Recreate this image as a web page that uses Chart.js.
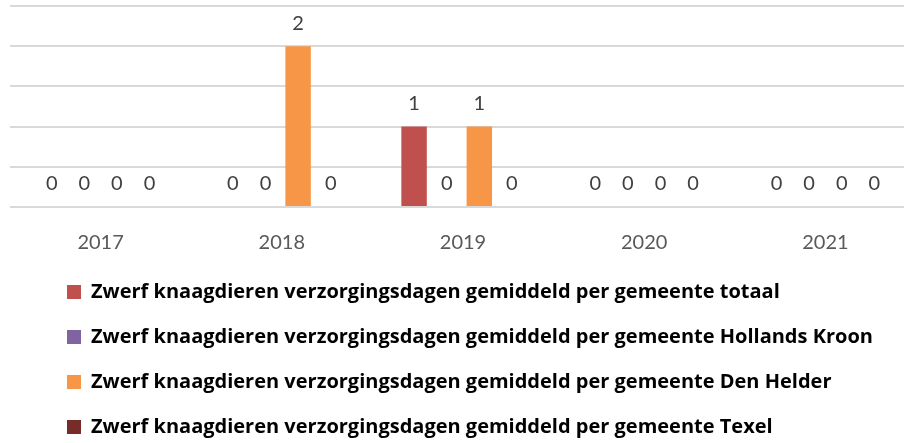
<!DOCTYPE html>
<html><head><meta charset="utf-8">
<style>html,body{margin:0;padding:0;overflow:hidden;background:#fff}#wrap{width:916px;height:447px;position:relative}</style>
<script src="https://cdn.jsdelivr.net/npm/chart.js@4"></script>
</head><body><div id="wrap"><canvas id="c" width="916" height="447"></canvas></div>
<script>
const categories = ['2017', '2018', '2019', '2020', '2021'];
const seriesNames = [
  'Zwerf knaagdieren verzorgingsdagen gemiddeld per gemeente totaal',
  'Zwerf knaagdieren verzorgingsdagen gemiddeld per gemeente Hollands Kroon',
  'Zwerf knaagdieren verzorgingsdagen gemiddeld per gemeente Den Helder',
  'Zwerf knaagdieren verzorgingsdagen gemiddeld per gemeente Texel'
];
const totaal = [0, 0, 1, 0, 0];
const hollandsKroon = [0, 0, 0, 0, 0];
const denHelder = [0, 2, 1, 0, 0];
const texel = [0, 0, 0, 0, 0];
const yMin = 0, yMax = 2.5, yStep = 0.5;
const colors = ['#c0504d', '#8064a2', '#f79646', '#772c2a'];

const seriesValues = [totaal, hollandsKroon, denHelder, texel];

const valueLabels = {
  id: 'valueLabels',
  afterDatasetsDraw(chart) {
    const ctx = chart.ctx;
    ctx.save();
    ctx.font = '20px Lato';
    ctx.fillStyle = '#404040';
    ctx.textAlign = 'center';
    ctx.textBaseline = 'middle';
    chart.data.datasets.forEach((ds, i) => {
      const meta = chart.getDatasetMeta(i);
      meta.data.forEach((el, j) => {
        ctx.fillText(String(ds.data[j]), el.x, el.y - 23);
      });
    });
    ctx.restore();
  }
};

const legendShift = {
  id: 'legendShift',
  afterLayout(chart) {
    const l = chart.legend;
    if (l) { l.left += 32; l.right += 32; }
  }
};

new Chart(document.getElementById('c'), {
  type: 'bar',
  data: {
    labels: categories,
    datasets: seriesValues.map((vals, i) => ({
      label: seriesNames[i],
      data: vals,
      backgroundColor: colors[i],
      borderWidth: 0,
      categoryPercentage: 0.72,
      barPercentage: 0.78
    }))
  },
  options: {
    responsive: false,
    animation: false,
    devicePixelRatio: 1,
    layout: { padding: { left: 10, top: 6, right: 0, bottom: 0 } },
    plugins: {
      tooltip: { enabled: false },
      legend: {
        position: 'bottom',
        align: 'start',
        labels: {
          boxWidth: 14,
          boxHeight: 14,
          padding: 25,
          color: '#000',
          font: { family: 'Open Sans', size: 20, weight: 'bold' }
        }
      }
    },
    scales: {
      x: {
        grid: { display: false },
        border: { display: false },
        ticks: { color: '#595959', font: { family: 'Lato', size: 20 }, padding: 16 },
        afterFit(scale) { scale.height = 50; }
      },
      y: {
        min: yMin,
        max: yMax,
        ticks: { display: false, stepSize: yStep },
        grid: { color: '#d9d9d9', lineWidth: 2, drawTicks: false },
        border: { display: false },
        afterFit(scale) { scale.width = 0; }
      }
    }
  },
  plugins: [valueLabels, legendShift]
});
</script>
</body></html>
